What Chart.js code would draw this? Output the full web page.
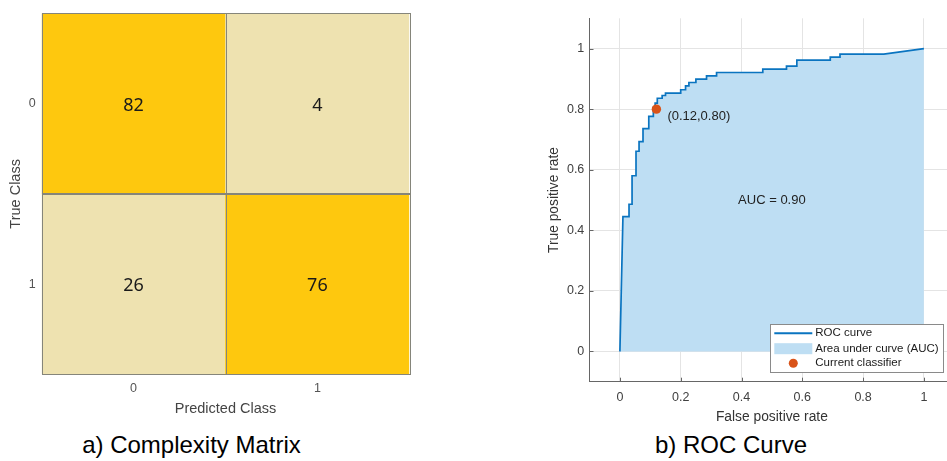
<!DOCTYPE html>
<html><head><meta charset="utf-8">
<script src="https://cdn.jsdelivr.net/npm/chart.js@4.4.1/dist/chart.umd.min.js"></script>
<style>
html,body{margin:0;padding:0;width:947px;height:461px;overflow:hidden;background:#fff;}
#wrap{position:relative;width:947px;height:461px;overflow:hidden;}
canvas{position:absolute;}
#cm{left:0;top:0;}
#roc{left:540px;top:0;}
.cap{position:absolute;top:430px;font-family:"Liberation Sans",Arial,sans-serif;font-size:24px;line-height:30px;color:#000;white-space:nowrap;transform:translateX(-50%);}
</style></head><body>
<div id="wrap">
<canvas id="cm" width="420" height="422"></canvas>
<canvas id="roc" width="420" height="430"></canvas>
<div class="cap" style="left:191.5px">a) Complexity Matrix</div>
<div class="cap" style="left:731px">b) ROC Curve</div>
</div>
<script>
// ---------- data ----------
const predictedClasses = ['0', '1'];
const trueClasses = ['0', '1'];
const counts = [[82, 4], [26, 76]];

const fpr = [0, 0.010, 0.030, 0.030, 0.040, 0.040, 0.053, 0.053, 0.063, 0.063, 0.076, 0.076,
  0.095, 0.095, 0.110, 0.110, 0.116, 0.116, 0.123, 0.123, 0.139, 0.139, 0.150, 0.150,
  0.200, 0.200, 0.216, 0.216, 0.227, 0.227, 0.250, 0.250, 0.285, 0.285, 0.318, 0.318,
  0.470, 0.470, 0.548, 0.548, 0.582, 0.582, 0.692, 0.692, 0.724, 0.724, 0.868, 1.000];
const tpr = [0, 0.445, 0.445, 0.486, 0.486, 0.580, 0.580, 0.661, 0.661, 0.693, 0.693, 0.736,
  0.736, 0.776, 0.776, 0.806, 0.806, 0.820, 0.820, 0.836, 0.836, 0.845, 0.845, 0.853,
  0.853, 0.864, 0.864, 0.877, 0.877, 0.888, 0.888, 0.899, 0.899, 0.910, 0.910, 0.921,
  0.921, 0.932, 0.932, 0.942, 0.942, 0.962, 0.962, 0.972, 0.972, 0.982, 0.982, 1.000];
const classifierPoint = {x: 0.12, y: 0.80};
const classifierLabel = '(0.12,0.80)';
const aucText = 'AUC = 0.90';
const aucPos = {x: 0.5, y: 0.5};
const rocTicks = [0, 0.2, 0.4, 0.6, 0.8, 1];
const rocTickLabels = ['0', '0.2', '0.4', '0.6', '0.8', '1'];
const legendLabels = ['ROC curve', 'Area under curve (AUC)', 'Current classifier'];

// ---------- styles ----------
const SANS = '"Liberation Sans", Arial, sans-serif';
const DARK_CELL = '#FEC80E';
const LIGHT_CELL = '#EEE2B0';
const ROC_LINE = '#0A74C0';
const ROC_FILL = '#BEDEF3';
const DOT = '#D95319';

// ---------- confusion matrix ----------
const cellColor = (r, c) => (r === c ? DARK_CELL : LIGHT_CELL);
const cmDatasets = trueClasses.map((t, r) => ({
  label: 'True ' + t,
  data: predictedClasses.map(() => [r, r + 1]),
  backgroundColor: predictedClasses.map((p, c) => cellColor(r, c)),
  borderWidth: 0,
  grouped: false,
  barPercentage: 1,
  categoryPercentage: 1
}));

const cmPlugin = {
  id: 'cmCells',
  afterDatasetsDraw(chart) {
    const ctx = chart.ctx;
    ctx.save();
    chart.data.datasets.forEach((ds, r) => {
      const meta = chart.getDatasetMeta(r);
      meta.data.forEach((bar, c) => {
        const p = bar.getProps(['x', 'y', 'base', 'width'], true);
        const left = p.x - p.width / 2, top = Math.min(p.y, p.base), h = Math.abs(p.base - p.y);
        ctx.strokeStyle = '#85857a';
        ctx.lineWidth = 1;
        ctx.strokeRect(Math.round(left) + 0.5, Math.round(top) + 0.5, Math.round(p.width), Math.round(h));
        ctx.fillStyle = '#1a1a1a';
        ctx.font = '18px "Noto Sans", "Open Sans", sans-serif';
        ctx.textAlign = 'center';
        ctx.textBaseline = 'middle';
        ctx.fillText(String(counts[r][c]), p.x, (p.y + p.base) / 2 + 2);
      });
    });
    ctx.restore();
  }
};

new Chart(document.getElementById('cm'), {
  type: 'bar',
  data: {labels: predictedClasses, datasets: cmDatasets},
  options: {
    responsive: false, animation: false, devicePixelRatio: 1,
    layout: {padding: {left: 3.3, top: 6.7, right: 10.7, bottom: 0}},
    plugins: {legend: {display: false}, tooltip: {enabled: false}},
    scales: {
      x: {
        type: 'category', offset: true,
        grid: {display: false, drawTicks: false}, border: {display: false},
        ticks: {color: '#555', font: {family: SANS, size: 12.5}, padding: 7.2},
        title: {display: true, text: 'Predicted Class', color: '#444', font: {family: SANS, size: 14.5}, padding: 4},
        afterFit: s => { s.height = 422 - 374.3; }
      },
      y: {
        type: 'linear', min: 0, max: trueClasses.length, reverse: true,
        afterBuildTicks: s => { s.ticks = trueClasses.map((t, i) => ({value: i + 0.5})); },
        grid: {display: false, drawTicks: false}, border: {display: false},
        ticks: {color: '#555', font: {family: SANS, size: 12.5}, padding: 5.9, callback: (v, i) => trueClasses[i]},
        title: {display: true, text: 'True Class', color: '#444', font: {family: SANS, size: 14.5}, padding: 4},
        afterFit: s => { s.width = 41.7 - 3.3; }
      }
    }
  },
  plugins: [cmPlugin]
});

// ---------- ROC ----------
const rocData = fpr.map((x, i) => ({x: x, y: tpr[i]}));

const rocPlugin = {
  id: 'rocExtras',
  afterDatasetsDraw(chart) {
    const ctx = chart.ctx, x = chart.scales.x, y = chart.scales.y, ca = chart.chartArea;
    ctx.save();
    // inward tick marks
    ctx.strokeStyle = '#666'; ctx.lineWidth = 1;
    rocTicks.forEach(v => {
      const px = Math.round(x.getPixelForValue(v)) + 0.5;
      ctx.beginPath(); ctx.moveTo(px, ca.bottom); ctx.lineTo(px, ca.bottom - 4); ctx.stroke();
      const py = Math.round(y.getPixelForValue(v)) + 0.5;
      ctx.beginPath(); ctx.moveTo(ca.left, py); ctx.lineTo(ca.left + 4, py); ctx.stroke();
    });
    // annotations
    ctx.fillStyle = '#222';
    ctx.font = '13px ' + SANS;
    ctx.textBaseline = 'middle';
    ctx.textAlign = 'center';
    ctx.fillText(aucText, x.getPixelForValue(aucPos.x), y.getPixelForValue(aucPos.y));
    ctx.textAlign = 'left';
    ctx.fillText(classifierLabel, x.getPixelForValue(classifierPoint.x) + 11, y.getPixelForValue(classifierPoint.y) + 7.5);
    // legend
    const lw = 173, lh = 48;
    const lx = ca.right - 11 - lw, ly = ca.bottom - 9.5 - lh;
    ctx.fillStyle = '#fff';
    ctx.fillRect(lx, ly, lw, lh);
    ctx.strokeStyle = '#8a8a8a'; ctx.lineWidth = 1;
    ctx.strokeRect(Math.round(lx) + 0.5, Math.round(ly) + 0.5, lw, lh);
    ctx.strokeStyle = ROC_LINE; ctx.lineWidth = 2;
    ctx.beginPath(); ctx.moveTo(lx + 4, ly + 9); ctx.lineTo(lx + 42, ly + 9); ctx.stroke();
    ctx.fillStyle = ROC_FILL;
    ctx.fillRect(lx + 4, ly + 19, 38, 11);
    ctx.fillStyle = DOT;
    ctx.beginPath(); ctx.arc(lx + 23, ly + 39, 4.5, 0, Math.PI * 2); ctx.fill();
    ctx.fillStyle = '#1a1a1a';
    ctx.font = '11.5px ' + SANS;
    ctx.textAlign = 'left';
    const rows = [ly + 9, ly + 24.5, ly + 39];
    legendLabels.forEach((t, i) => ctx.fillText(t, lx + 45, rows[i]));
    ctx.restore();
  }
};

new Chart(document.getElementById('roc'), {
  type: 'scatter',
  data: {datasets: [
    {label: legendLabels[2], data: [classifierPoint], pointRadius: 4.7, pointBackgroundColor: DOT, pointBorderWidth: 0, order: 0},
    {label: legendLabels[0], data: rocData, showLine: true, pointRadius: 0, borderColor: ROC_LINE, borderWidth: 1.7,
     fill: {value: 0}, backgroundColor: ROC_FILL, tension: 0, order: 1}
  ]},
  options: {
    responsive: false, animation: false, devicePixelRatio: 1,
    layout: {padding: {left: 1.7, top: 18.3, right: 5.7, bottom: 0.7}},
    plugins: {legend: {display: false}, tooltip: {enabled: false}},
    scales: {
      x: {
        type: 'linear', min: -0.1, max: 1.1,
        afterBuildTicks: s => { s.ticks = rocTicks.map(v => ({value: v})); },
        grid: {color: '#e4e4e4', drawTicks: false},
        border: {display: true, color: '#666', width: 1},
        ticks: {color: '#404040', font: {family: SANS, size: 12.5}, padding: 8.8, callback: (v, i) => rocTickLabels[i]},
        title: {display: true, text: 'False positive rate', color: '#333', font: {family: SANS, size: 13.8}, padding: 4},
        afterFit: s => { s.height = 429.3 - 381.7; }
      },
      y: {
        type: 'linear', min: -0.1, max: 1.1,
        afterBuildTicks: s => { s.ticks = rocTicks.map(v => ({value: v})); },
        grid: {color: '#e4e4e4', drawTicks: false},
        border: {display: true, color: '#666', width: 1},
        ticks: {color: '#404040', font: {family: SANS, size: 12.5}, padding: 5.2, callback: (v, i) => rocTickLabels[i]},
        title: {display: true, text: 'True positive rate', color: '#333', font: {family: SANS, size: 13.8}, padding: 4},
        afterFit: s => { s.width = 49.5 - 1.7; }
      }
    }
  },
  plugins: [rocPlugin]
});
</script>
</body></html>
